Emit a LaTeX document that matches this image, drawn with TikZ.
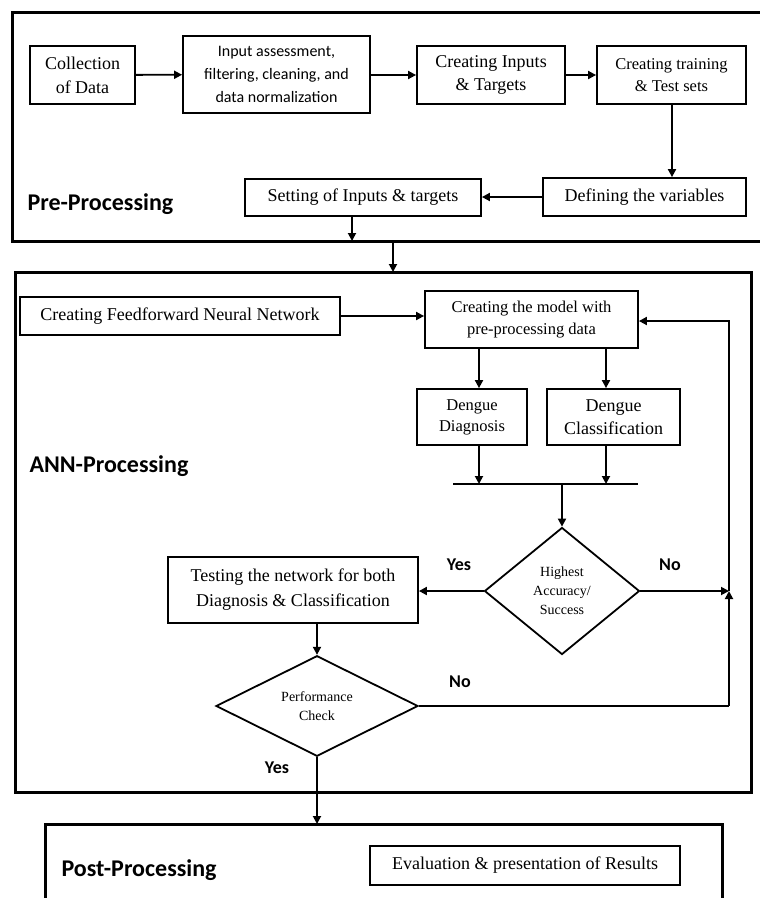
\documentclass[tikz,border=0pt]{standalone}
\usepackage{fontspec}
\setmainfont{Liberation Serif}
\newfontfamily\labelfont{Carlito}
\usetikzlibrary{arrows.meta,shapes.geometric}

\tikzset{
  stage/.style={draw, line width=3pt},
  procbox/.style={draw, line width=1.8pt, align=center, inner sep=2pt,
                  font=\fontsize{18}{23}\selectfont},
  decision/.style={draw, diamond, line width=1.8pt, align=center, inner sep=0pt,
                   font=\fontsize{14}{19}\selectfont},
  stagetitle/.style={anchor=west, font=\labelfont\bfseries\fontsize{24}{28}\selectfont},
  answer/.style={font=\labelfont\bfseries\fontsize{18}{21}\selectfont},
  flow/.style={line width=1.8pt, -{Triangle[length=8pt,width=8pt]}},
  link/.style={line width=1.8pt}
}

\begin{document}
\begin{tikzpicture}[x=1pt, y=-1pt]
\useasboundingbox (0,0) rectangle (760,898);
\clip (0,0) rectangle (760,898);

% ---------- Pre-Processing stage ----------
\draw[stage] (12,12) rectangle (770,241);
\node[stagetitle] (pretitle) at (24,204) {Pre-Processing};

\node[procbox, minimum width=105pt, minimum height=58pt,
      font=\fontsize{18}{24}\selectfont] (coll) at (82.5,75)
  {Collection\\of Data};
\node[procbox, minimum width=187pt, minimum height=77pt,
      font=\labelfont\fontsize{16}{23}\selectfont] (inp) at (276.5,74.5)
  {Input assessment,\\filtering, cleaning, and\\data normalization};
\node[procbox, minimum width=148pt, minimum height=58pt] (cit) at (491,75)
  {Creating Inputs\\\& Targets};
\node[procbox, minimum width=149pt, minimum height=58pt,
      font=\fontsize{16.5}{22}\selectfont] (cts) at (671.5,75)
  {Creating training\\\& Test sets};
\node[procbox, minimum width=203pt, minimum height=38pt] (defv) at (644.5,197)
  {Defining the variables};
\node[procbox, minimum width=236pt, minimum height=37pt] (setin) at (363,197.5)
  {Setting of Inputs \& targets};

\draw[flow] (coll) -- (inp);
\draw[flow] (inp.east |- cit) -- (cit);
\draw[flow] (cit) -- (cts);
\draw[flow] (cts.south -| 672,0) -- (defv.north -| 672,0);
\draw[flow] (defv.west) -- (setin.east |- defv.west);

\coordinate (prebottom) at (352,241);
\draw[flow] (setin.south -| prebottom) -- (prebottom);

% ---------- ANN-Processing stage ----------
\draw[stage] (15,272) rectangle (751,792);
\node[stagetitle] (anntitle) at (26,466) {ANN-Processing};

\coordinate (pretop) at (393,241);
\coordinate (anntop) at (393,272);
\draw[flow] (pretop) -- (anntop);

\node[procbox, minimum width=320pt, minimum height=38pt] (ffnn) at (180,316)
  {Creating Feedforward Neural Network};
\node[procbox, minimum width=213pt, minimum height=57pt,
      font=\fontsize{16.5}{22}\selectfont] (model) at (531.5,319.5)
  {Creating the model with\\pre-processing data};
\node[procbox, minimum width=110pt, minimum height=56pt,
      font=\fontsize{16.5}{21}\selectfont] (diag) at (472,417)
  {Dengue\\Diagnosis};
\node[procbox, minimum width=133pt, minimum height=56pt] (clsf) at (613.5,417)
  {Dengue\\Classification};

\draw[flow] (ffnn.east) -- (ffnn.east -| model.west);
\draw[flow] (model.south -| 479,0) -- (diag.north -| 479,0);
\draw[flow] (model.south -| 606,0) -- (clsf.north -| 606,0);

% junction bar collecting both outputs
\coordinate (barL) at (453,484);
\coordinate (barR) at (638,484);
\coordinate (barM) at (562,484);
\draw[link] (barL) -- (barR);
\draw[flow] (diag.south -| 479,0) -- (barL -| 479,0);
\draw[flow] (clsf.south -| 606,0) -- (barR -| 606,0);

\node[decision, minimum width=155pt, minimum height=127pt] (high) at (562,591)
  {Highest\\Accuracy/\\Success};
\draw[flow] (barM) -- (high.north);

\node[procbox, minimum width=250pt, minimum height=66pt,
      font=\fontsize{18}{25}\selectfont] (test) at (293,590)
  {Testing the network for both\\Diagnosis \& Classification};
\draw[flow] (high.west) -- (test.east |- high.west);

\node[decision, minimum width=202pt, minimum height=85pt] (perf) at (317,706)
  {Performance\\Check};
\draw[flow] (test.south -| perf.north) -- (perf.north);

% feedback loop on the right
\coordinate (loopA) at (729,591);
\coordinate (loopB) at (729,706);
\coordinate (loopC) at (729,321);
\draw[flow] (high.east) -- (loopA);
\draw[link] (perf.east) -- (loopB);
\draw[flow] (loopB) -- (loopA);
\draw[flow] (loopA) -- (loopC) -- (model.east |- loopC);

\node[answer] (yes1) at (459,565) {Yes};
\node[answer] (no1) at (670,565) {No};
\node[answer] (no2) at (460,682) {No};
\node[answer] (yes2) at (277,768) {Yes};

% ---------- Post-Processing stage ----------
\draw[stage] (45,824) rectangle (722,920);
\node[stagetitle] (posttitle) at (58,870) {Post-Processing};

\coordinate (posttop) at (317,824);
\draw[flow] (perf.south) -- (posttop);

\node[procbox, minimum width=310pt, minimum height=39pt] (eval) at (525,865.5)
  {Evaluation \& presentation of Results};

\end{tikzpicture}
\end{document}
